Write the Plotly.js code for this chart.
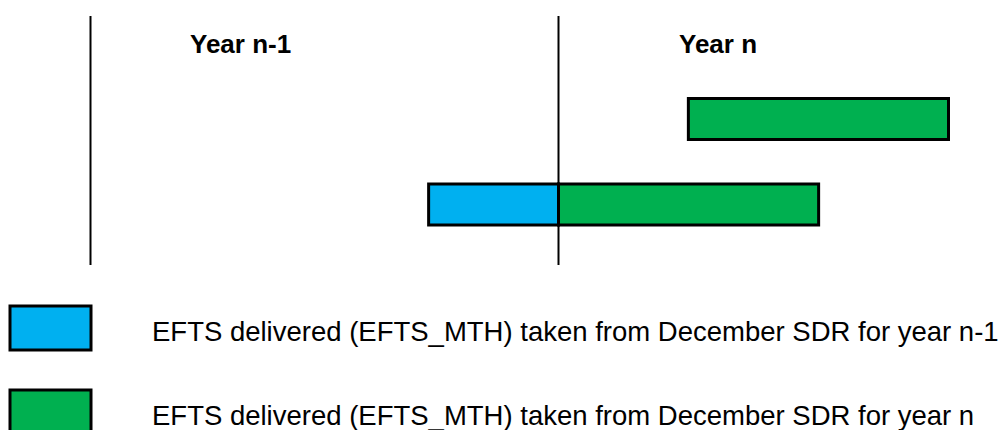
<!DOCTYPE html>
<html>
<head>
<meta charset="utf-8">
<script src="https://cdn.plot.ly/plotly-3.0.1.min.js"></script>
<style>html,body{margin:0;padding:0;background:#fff;}#chart{width:1004px;height:430px;}</style>
</head>
<body>
<div id="chart"></div>
<script>
// Timeline in months, 0 = start of Year n (end of December, year n-1)
const periodLabels = ['Year n-1', 'Year n'];
const periodStarts = [-12, 0];
const rows = [1, 2];                 // 1 = lower bar, 2 = upper bar
const prevYearRows = [1];
const prevYearStart = [-3.33];
const prevYearLength = [3.33];
const currYearRows = [1, 2];
const currYearStart = [0, 3.33];
const currYearLength = [6.67, 6.67];
const legendTexts = [
  'EFTS delivered (EFTS_MTH) taken from December SDR for year n-1',
  'EFTS delivered (EFTS_MTH) taken from December SDR for year n'
];
const colors = ['#00B0F0', '#00B050'];

const W = 1004, H = 430;
const FONT = 'Liberation Sans, Arial, sans-serif';

const traces = [
  {
    type: 'bar', orientation: 'h',
    y: prevYearRows, x: prevYearLength, base: prevYearStart,
    width: 0.48,
    marker: {color: colors[0], line: {color: '#000', width: 3}},
    hoverinfo: 'skip'
  },
  {
    type: 'bar', orientation: 'h',
    y: currYearRows, x: currYearLength, base: currYearStart,
    width: 0.48,
    marker: {color: colors[1], line: {color: '#000', width: 3}},
    hoverinfo: 'skip'
  }
];

const shapes = periodStarts.map(v => ({
  type: 'line', xref: 'x', yref: 'y', x0: v, x1: v, y0: 0.2924, y1: 3.2047,
  line: {color: '#000', width: 2}, layer: 'above'
}));
// legend swatches
const swatchTop = [306, 390];
swatchTop.forEach((t, i) => {
  shapes.push({
    type: 'rect', xref: 'paper', yref: 'paper',
    x0: 10 / W, x1: 91 / W, y0: 1 - t / H, y1: 1 - (t + 44) / H,
    fillcolor: colors[i], line: {color: '#000', width: 3}
  });
});

const annotations = [];
const labelX = [188, 677];
periodLabels.forEach((lab, i) => {
  annotations.push({
    xref: 'paper', yref: 'paper', x: labelX[i] / W, y: 1 - 44 / H,
    xanchor: 'left', yanchor: 'middle', showarrow: false,
    text: '<b>' + lab + '</b>',
    font: {family: FONT, size: 26, color: '#000'}
  });
});
const legendY = [331, 415];
legendTexts.forEach((t, i) => {
  annotations.push({
    xref: 'paper', yref: 'paper', x: 150 / W, y: 1 - legendY[i] / H,
    xanchor: 'left', yanchor: 'middle', showarrow: false,
    text: t,
    font: {family: FONT, size: 27.5, color: '#000'}
  });
});

const layout = {
  width: W, height: H,
  margin: {l: 0, r: 0, t: 0, b: 0, pad: 0},
  paper_bgcolor: '#fff', plot_bgcolor: '#fff',
  showlegend: false, barmode: 'overlay',
  xaxis: {range: [-14.3205, 11.4231], visible: false, fixedrange: true},
  yaxis: {range: [-1.6374, 3.3918], visible: false, fixedrange: true},
  shapes: shapes,
  annotations: annotations
};

Plotly.newPlot('chart', traces, layout, {displayModeBar: false, staticPlot: true});
</script>
</body>
</html>
